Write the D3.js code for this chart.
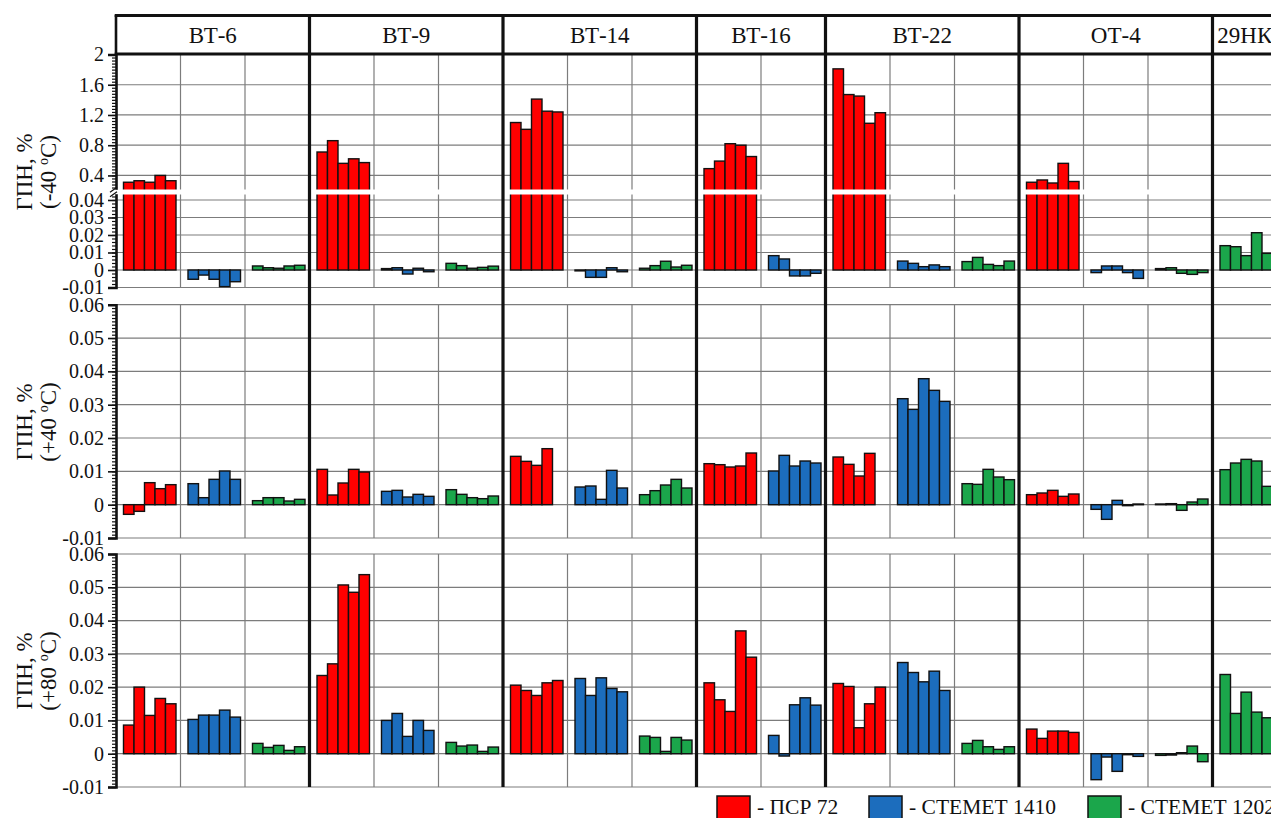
<!DOCTYPE html>
<html>
<head>
<meta charset="utf-8">
<script src="https://cdn.jsdelivr.net/npm/d3@7"></script>
<style>
  body { margin: 0; background: #fff; }
  svg { display: block; }
  svg text { font-family: 'Liberation Serif', 'DejaVu Serif', 'Times New Roman', Times, serif !important; fill: #111; }
</style>
</head>
<body>
<svg id="chart" width="1271" height="818" style="font-family: 'Liberation Serif', 'DejaVu Serif', serif"></svg>
<script>
// ---- Categories ----
const alloys = ["ВТ-6", "ВТ-9", "ВТ-14", "ВТ-16", "ВТ-22", "ОТ-4", "29НК"];
const coatings = ["ПСР 72", "СТЕМЕТ 1410", "СТЕМЕТ 1202"];
const coatingColors = ["#ff0000", "#1c6dbd", "#1ba64b"];
// coatings tested on each alloy (indices into `coatings`)
const testedCoatings = [[0, 1, 2], [0, 1, 2], [0, 1, 2], [0, 1], [0, 1, 2], [0, 1, 2], [2]];

// ---- ГПН, % at -40 °C : one array of 5 specimens per alloy ----
const minus40_psr72 = [
  [0.31, 0.33, 0.31, 0.40, 0.33],
  [0.71, 0.86, 0.56, 0.62, 0.57],
  [1.10, 1.01, 1.41, 1.25, 1.24],
  [0.49, 0.59, 0.82, 0.80, 0.65],
  [1.81, 1.47, 1.45, 1.09, 1.23],
  [0.31, 0.34, 0.30, 0.56, 0.32],
  null
];
const minus40_stemet1410 = [
  [-0.0053, -0.0029, -0.0053, -0.0095, -0.0067],
  [0.0008, 0.0013, -0.0023, 0.0010, -0.0010],
  [-0.0005, -0.0042, -0.0042, 0.0013, -0.0010],
  [0.0082, 0.0063, -0.0034, -0.0034, -0.0019],
  [0.0051, 0.0038, 0.0019, 0.0029, 0.0019],
  [-0.0015, 0.0023, 0.0023, -0.0015, -0.0048],
  null
];
const minus40_stemet1202 = [
  [0.0023, 0.0013, 0.0010, 0.0023, 0.0027],
  [0.0038, 0.0025, 0.0010, 0.0015, 0.0022],
  [0.0010, 0.0025, 0.0050, 0.0017, 0.0027],
  null,
  [0.0048, 0.0072, 0.0032, 0.0025, 0.0051],
  [0.0008, 0.0013, -0.0019, -0.0025, -0.0015],
  [0.0139, 0.0133, 0.0082, 0.0213, 0.0095]
];

// ---- ГПН, % at +40 °C ----
const plus40_psr72 = [
  [-0.0029, -0.0020, 0.0066, 0.0048, 0.0060],
  [0.0106, 0.0029, 0.0065, 0.0106, 0.0098],
  [0.0145, 0.0130, 0.0118, 0.0168, null],
  [0.0123, 0.0120, 0.0113, 0.0116, 0.0155],
  [0.0143, 0.0121, 0.0086, 0.0154, null],
  [0.0030, 0.0035, 0.0043, 0.0025, 0.0032],
  null
];
const plus40_stemet1410 = [
  [0.0063, 0.0021, 0.0076, 0.0101, 0.0076],
  [0.0040, 0.0043, 0.0023, 0.0031, 0.0025],
  [0.0053, 0.0056, 0.0016, 0.0103, 0.0050],
  [0.0101, 0.0148, 0.0116, 0.0131, 0.0125],
  [0.0318, 0.0286, 0.0378, 0.0343, 0.0310],
  [-0.0014, -0.0044, 0.0013, -0.0003, 0.0002],
  null
];
const plus40_stemet1202 = [
  [0.0012, 0.0021, 0.0021, 0.0011, 0.0016],
  [0.0045, 0.0031, 0.0021, 0.0018, 0.0026],
  [0.0030, 0.0042, 0.0059, 0.0076, 0.0050],
  null,
  [0.0063, 0.0061, 0.0106, 0.0083, 0.0075],
  [0.0002, 0.0003, -0.0017, 0.0008, 0.0017],
  [0.0105, 0.0125, 0.0136, 0.0131, 0.0055]
];

// ---- ГПН, % at +80 °C ----
const plus80_psr72 = [
  [0.0086, 0.0200, 0.0115, 0.0166, 0.0150],
  [0.0235, 0.0270, 0.0507, 0.0485, 0.0538],
  [0.0206, 0.0190, 0.0175, 0.0213, 0.0220],
  [0.0213, 0.0162, 0.0127, 0.0369, 0.0290],
  [0.0211, 0.0202, 0.0078, 0.0150, 0.0200],
  [0.0074, 0.0046, 0.0068, 0.0068, 0.0064],
  null
];
const plus80_stemet1410 = [
  [0.0103, 0.0116, 0.0116, 0.0131, 0.0110],
  [0.0100, 0.0121, 0.0052, 0.0100, 0.0070],
  [0.0226, 0.0175, 0.0228, 0.0196, 0.0186],
  [0.0055, -0.0007, 0.0147, 0.0168, 0.0146],
  [0.0274, 0.0244, 0.0216, 0.0248, 0.0190],
  [-0.0078, -0.0010, -0.0053, -0.0003, -0.0008],
  null
];
const plus80_stemet1202 = [
  [0.0031, 0.0019, 0.0025, 0.0010, 0.0021],
  [0.0034, 0.0023, 0.0026, 0.0007, 0.0020],
  [0.0053, 0.0049, 0.0007, 0.0049, 0.0041],
  null,
  [0.0031, 0.0040, 0.0021, 0.0013, 0.0021],
  [-0.0005, -0.0004, 0.0003, 0.0023, -0.0024],
  [0.0238, 0.0121, 0.0185, 0.0125, 0.0108]
];

// ---- Tick values ----
const ticksBroken = [-0.01, 0, 0.01, 0.02, 0.03, 0.04, 0.4, 0.8, 1.2, 1.6, 2];
const ticksRegular = [-0.01, 0, 0.01, 0.02, 0.03, 0.04, 0.05, 0.06];
const temperatures = ["-40", "+40", "+80"];

// ---- Layout ----
const W = 1271, H = 818;
const left = 116, slotsRight = 1277;
const headerTop = 15, headerBottom = 54.5;
const gridColor = "#7c7c7c";
const serif = "'Liberation Serif', 'DejaVu Serif', serif";

const svg = d3.select("#chart");

const slotKeys = [];
alloys.forEach((a, ai) => testedCoatings[ai].forEach(ci => slotKeys.push(ai + "-" + ci)));
const xSlot = d3.scaleBand().domain(slotKeys).range([left, slotsRight]);
const xBar = d3.scaleBand().domain(d3.range(5)).range([7.5, 60]);

const rows = [
  {
    temp: temperatures[0],
    series: [minus40_psr72, minus40_stemet1410, minus40_stemet1202],
    y: d3.scaleLinear().domain([-0.01, 0.0433, 0.21, 2]).range([287.5, 194.2, 189.8, headerBottom]),
    ticks: ticksBroken,
    minor: d3.range(-5, 22).map(i => i * 0.002).concat(d3.range(6, 50).map(i => i * 0.04)),
    labelY: 172,
    broken: true
  },
  {
    temp: temperatures[1],
    series: [plus40_psr72, plus40_stemet1410, plus40_stemet1202],
    y: d3.scaleLinear().domain([-0.01, 0.06]).range([538, 304.7]),
    ticks: ticksRegular,
    minor: d3.range(-10, 61).map(i => i * 0.001),
    labelY: 422
  },
  {
    temp: temperatures[2],
    series: [plus80_psr72, plus80_stemet1410, plus80_stemet1202],
    y: d3.scaleLinear().domain([-0.01, 0.06]).range([787, 554]),
    ticks: ticksRegular,
    minor: d3.range(-10, 61).map(i => i * 0.001),
    labelY: 671
  }
];

const alloyStart = ai => xSlot(ai + "-" + testedCoatings[ai][0]);
const alloyEnd = ai => xSlot(ai + "-" + testedCoatings[ai][testedCoatings[ai].length - 1]) + xSlot.bandwidth();

rows.forEach(row => {
  const g = svg.append("g");
  const y = row.y;
  const [yBottom, yTop] = [y.range()[0], y.range()[y.range().length - 1]];

  // horizontal grid
  g.append("g").selectAll("line").data(row.ticks).join("line")
    .attr("x1", left).attr("x2", W)
    .attr("y1", d => y(d)).attr("y2", d => y(d))
    .attr("stroke", gridColor).attr("stroke-width", 1.2);

  // thin vertical grid between coating slots
  const inner = slotKeys.filter((k, i) => i > 0 && k.split("-")[0] === slotKeys[i - 1].split("-")[0]);
  g.append("g").selectAll("line").data(inner).join("line")
    .attr("x1", d => xSlot(d)).attr("x2", d => xSlot(d))
    .attr("y1", yTop).attr("y2", yBottom)
    .attr("stroke", gridColor).attr("stroke-width", 1.2);

  // bars
  const bars = [];
  slotKeys.forEach(k => {
    const [ai, ci] = k.split("-").map(Number);
    const vals = row.series[ci][ai];
    if (!vals) return;
    vals.forEach((v, i) => { if (v !== null) bars.push({ k, ci, i, v }); });
  });
  g.append("g").selectAll("rect").data(bars).join("rect")
    .attr("x", d => xSlot(d.k) + xBar(d.i))
    .attr("width", xBar.bandwidth())
    .attr("y", d => Math.min(y(d.v), y(0)))
    .attr("height", d => Math.abs(y(d.v) - y(0)))
    .attr("fill", d => coatingColors[d.ci])
    .attr("stroke", "#111").attr("stroke-width", 1.4);

  // axis break
  if (row.broken) {
    const yb1 = y(0.21) - 0.3, yb2 = y(0.0433) + 0.3;
    g.append("rect").attr("x", left - 1).attr("y", yb1).attr("width", W - left + 1).attr("height", yb2 - yb1)
      .attr("fill", "#fff");
  }

  // y axis: minor then major
  const minorAxis = d3.axisLeft(y).tickValues(row.minor).tickSize(4).tickFormat("");
  g.append("g").attr("transform", `translate(${left},0)`).call(minorAxis)
    .call(s => s.select(".domain").remove())
    .call(s => s.selectAll("line").attr("stroke", "#111").attr("stroke-width", 1.2));
  const axis = d3.axisLeft(y).tickValues(row.ticks).tickSize(8).tickPadding(4)
    .tickFormat(d => String(d));
  g.append("g").attr("transform", `translate(${left},0)`).call(axis)
    .attr("font-family", serif)
    .call(s => s.select(".domain").attr("stroke", "#111").attr("stroke-width", 2.6))
    .call(s => s.selectAll("line").attr("stroke", "#111").attr("stroke-width", 1.6))
    .call(s => s.selectAll("text").attr("font-size", 20).attr("font-family", serif).attr("fill", "#111"));

  if (row.broken) {
    const ym = (y(0.21) + y(0.0433)) / 2;
    g.append("rect").attr("x", left - 3).attr("y", ym - 2.2).attr("width", 6).attr("height", 4.4).attr("fill", "#fff");
    [-2.3, 2.3].forEach(o => {
      g.append("line").attr("x1", left - 6).attr("y1", ym + o + 2.5).attr("x2", left + 1).attr("y2", ym + o - 2.5)
        .attr("stroke", "#111").attr("stroke-width", 1.3);
    });
  }

  // y label
  svg.append("text").attr("transform", `translate(32,${row.labelY}) rotate(-90)`)
    .attr("text-anchor", "middle").attr("font-size", 23).attr("font-family", serif).text("ГПН, %");
  const lab2 = svg.append("text").attr("transform", `translate(56,${row.labelY}) rotate(-90)`)
    .attr("text-anchor", "middle").attr("font-size", 23).attr("font-family", serif);
  lab2.append("tspan").text("(" + row.temp + " ");
  lab2.append("tspan").attr("font-size", 14).attr("dy", -8).text("o");
  lab2.append("tspan").attr("dy", 8).text("C)");
});

// thick separators between alloys
const seps = d3.range(1, alloys.length).map(alloyStart);
svg.append("g").selectAll("line").data(seps).join("line")
  .attr("x1", d => d).attr("x2", d => d)
  .attr("y1", headerTop).attr("y2", rows[2].y.range()[0])
  .attr("stroke", "#111").attr("stroke-width", 3.2);

// header band
const hdr = svg.append("g");
[headerTop + 0.5, headerBottom - 0.5].forEach(yy => {
  hdr.append("line").attr("x1", left - 1.3).attr("x2", W).attr("y1", yy).attr("y2", yy)
    .attr("stroke", "#111").attr("stroke-width", 3);
});
hdr.append("line").attr("x1", left).attr("x2", left).attr("y1", headerTop).attr("y2", headerBottom)
  .attr("stroke", "#111").attr("stroke-width", 2.6);
hdr.selectAll("text").data(alloys).join("text")
  .attr("x", (d, i) => (alloyStart(i) + alloyEnd(i)) / 2)
  .attr("y", 43)
  .attr("text-anchor", "middle")
  .attr("font-size", 23)
  .attr("font-family", serif)
  .text(d => d);

// legend
const legendX = [717, 869, 1088];
const lg = svg.append("g");
coatings.forEach((c, i) => {
  lg.append("rect").attr("x", legendX[i]).attr("y", 796).attr("width", 33).attr("height", 26)
    .attr("fill", coatingColors[i]).attr("stroke", "#111").attr("stroke-width", 1.5);
  lg.append("text").attr("x", legendX[i] + 40).attr("y", 814).attr("font-size", 21.5)
    .attr("font-family", serif).text("- " + c);
});
</script>
</body>
</html>
